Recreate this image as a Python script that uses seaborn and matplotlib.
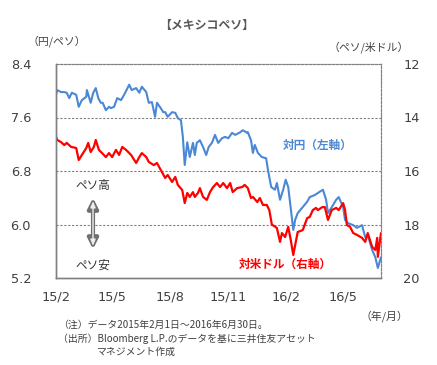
import numpy as np
import pandas as pd
import matplotlib
matplotlib.use("Agg")
import matplotlib.pyplot as plt
import seaborn as sns

# ---- data ----
start_date = "2015-02-01"
days_jpy = [0, 2, 8, 13, 17, 21, 25, 32, 36, 41, 48, 49, 55, 59, 63, 67, 71, 74, 79, 84, 87, 92,
            97, 103, 108, 116, 120, 127, 132, 136, 143, 147, 152, 157, 160, 166, 170, 173, 177,
            184, 189, 193, 198, 201, 204, 208, 212, 217, 220, 223, 228, 233, 238, 242, 247, 252,
            257, 263, 268, 273, 279, 284, 292, 296, 303, 304, 309, 312, 315, 320, 326, 333, 336,
            341, 347, 350, 355, 360, 364, 368, 371, 376, 379, 383, 391, 398, 402, 410, 418, 423,
            428, 431, 437, 444, 448, 455, 458, 463, 471, 477, 485, 490, 494, 501, 506, 510, 515]
mxn_jpy = [7.94, 8.01, 7.98, 7.98, 7.97, 7.89, 7.97, 7.94, 7.76, 7.86, 7.91, 8.01, 7.82, 7.97,
           8.04, 7.89, 7.82, 7.82, 7.71, 7.76, 7.74, 7.76, 7.89, 7.86, 7.94, 8.09, 8.01, 8.04,
           7.97, 8.06, 7.98, 7.82, 7.83, 7.61, 7.82, 7.74, 7.68, 7.68, 7.61, 7.68, 7.67, 7.59,
           7.56, 7.31, 6.89, 7.23, 7.01, 7.22, 7.04, 7.22, 7.26, 7.16, 7.04, 7.16, 7.22, 7.34,
           7.22, 7.29, 7.31, 7.29, 7.37, 7.34, 7.38, 7.41, 7.37, 7.38, 7.26, 7.07, 7.19, 7.07,
           7.01, 6.99, 6.81, 6.56, 6.52, 6.62, 6.37, 6.52, 6.67, 6.56, 6.32, 5.92, 6.07, 6.17,
           6.26, 6.34, 6.41, 6.44, 6.49, 6.52, 6.37, 6.17, 6.26, 6.37, 6.41, 6.26, 6.07, 6.02,
           5.99, 5.95, 5.99, 5.81, 5.84, 5.62, 5.51, 5.35, 5.51]

days_usd = [0, 2, 8, 13, 17, 24, 32, 36, 41, 48, 51, 55, 60, 63, 68, 73, 79, 84, 89, 95, 100,
            105, 111, 119, 127, 132, 136, 143, 147, 155, 160, 166, 173, 177, 184, 189, 193, 200,
            204, 208, 212, 217, 220, 225, 228, 233, 239, 244, 249, 255, 260, 265, 271, 276, 280,
            287, 295, 299, 304, 309, 312, 319, 323, 328, 334, 338, 342, 350, 355, 358, 363, 368,
            372, 376, 379, 383, 391, 398, 402, 407, 412, 415, 422, 426, 431, 437, 444, 448, 455,
            458, 461, 466, 471, 477, 485, 490, 494, 501, 506, 509, 510, 515]
mxn_usd = [14.73, 14.84, 14.92, 15.03, 14.95, 15.10, 15.14, 15.59, 15.40, 15.14, 14.95, 15.29,
           15.10, 14.84, 15.21, 15.33, 15.48, 15.33, 15.48, 15.21, 15.40, 15.10, 15.21, 15.40,
           15.70, 15.48, 15.33, 15.48, 15.66, 15.78, 15.70, 15.96, 16.26, 16.15, 16.41, 16.22,
           16.52, 16.71, 17.20, 16.82, 16.97, 16.79, 16.97, 16.82, 16.64, 16.97, 17.08, 16.79,
           16.60, 16.45, 16.60, 16.45, 16.64, 16.45, 16.79, 16.64, 16.60, 16.52, 16.64, 17.01,
           16.97, 17.16, 17.01, 17.27, 17.27, 17.46, 18.00, 18.13, 18.65, 18.32, 18.47, 18.09,
           18.58, 19.14, 18.77, 18.28, 18.21, 17.76, 17.72, 17.46, 17.38, 17.46, 17.35, 17.35,
           17.83, 17.46, 17.38, 17.46, 17.20, 17.46, 18.02, 18.09, 18.32, 18.39, 18.50, 18.65,
           18.32, 18.84, 18.95, 18.50, 19.21, 18.32]

tick_dates = ["2015-02-01", "2015-05-01", "2015-08-01", "2015-11-01", "2016-02-01", "2016-05-01"]
tick_labels = ["15/2", "15/5", "15/8", "15/11", "16/2", "16/5"]
left_ticks = [5.2, 6.0, 6.8, 7.6, 8.4]
right_ticks = [12, 14, 16, 18, 20]

# ---- build frames ----
t0 = pd.Timestamp(start_date)
df_jpy = pd.DataFrame({"date": t0 + pd.to_timedelta(days_jpy, unit="D"), "v": mxn_jpy})
df_usd = pd.DataFrame({"date": t0 + pd.to_timedelta(days_usd, unit="D"), "v": mxn_usd})

sns.set_theme(style="white")
JP = ["Noto Sans CJK JP", "DejaVu Sans"]
NUM = ["DejaVu Sans", "Noto Sans CJK JP"]
plt.rcParams["font.family"] = JP

W, H = 437, 365
fig = plt.figure(figsize=(W / 100, H / 100), dpi=100)
fig.patch.set_facecolor("white")

def fx(x):
    return x / W

def fy(y):
    return 1 - y / H

L, R, T, B = 56, 381, 64, 278
ax = fig.add_axes([fx(L), fy(B), fx(R) - fx(L), (B - T) / H])
ax2 = ax.twinx()

blue = "#4a88d6"
red = "#ff0000"
sns.lineplot(data=df_jpy, x="date", y="v", ax=ax, color=blue, lw=1.5, legend=False)
sns.lineplot(data=df_usd, x="date", y="v", ax=ax2, color=red, lw=1.6, legend=False)

ax.set_xlim(pd.Timestamp("2015-02-01"), pd.Timestamp("2016-06-30"))
ax.set_ylim(5.2, 8.4)
ax2.set_ylim(20, 12)

grid_c = "#808080"
for v in left_ticks[1:-1]:
    ax.axhline(v, color=grid_c, lw=0.8, ls=(0, (2, 1.5)), zorder=0)

ax.set_yticks(left_ticks)
ax.set_yticklabels([f"{v:.1f}" for v in left_ticks], fontfamily=NUM, fontsize=9.3, color="#404040")
ax2.set_yticks(right_ticks)
ax2.set_yticklabels([str(v) for v in right_ticks], fontfamily=NUM, fontsize=9.3, color="#404040")
ax.set_xticks(pd.to_datetime(tick_dates))
ax.set_xticklabels(tick_labels, fontfamily=NUM, fontsize=9.3, color="#404040")
ax.tick_params(axis="x", direction="in", length=3.5, width=0.8, color=grid_c, pad=9)
ax.tick_params(axis="y", length=0, pad=18)
ax2.tick_params(axis="y", length=0, pad=16)
ax.set_xlabel("")
ax.set_ylabel("")
ax2.set_ylabel("")
ax2.set_xlabel("")

for a in (ax, ax2):
    for s in ("left", "bottom"):
        a.spines[s].set_color(grid_c)
        a.spines[s].set_linewidth(1.0)
    for s in ("top", "right"):
        a.spines[s].set_color(grid_c)
        a.spines[s].set_linewidth(0.8)
        a.spines[s].set_linestyle((0, (2, 1.5)))
ax.grid(False)
ax2.grid(False)

# ---- texts ----
tc = "#404040"
fig.text(fx(207), fy(25), "【メキシコペソ】", ha="center", va="center", fontsize=8.6,
         fontweight="bold", color="#595959", family=JP)
fig.text(fx(57), fy(41), "（円/ペソ）", ha="center", va="center", fontsize=7.8, color=tc, family=JP)
fig.text(fx(369), fy(47), "（ペソ/米ドル）", ha="center", va="center", fontsize=7.8, color=tc, family=JP)
fig.text(fx(384), fy(316), "（年/月）", ha="center", va="center", fontsize=7.8, color=tc, family=JP)

fig.text(fx(58), fy(325), "（注）データ2015年2月1日～2016年6月30日。", ha="left", va="center",
         fontsize=7.1, color=tc, family=JP)
fig.text(fx(58), fy(339), "（出所）Bloomberg L.P.のデータを基に三井住友アセット", ha="left", va="center",
         fontsize=7.1, color=tc, family=JP)
fig.text(fx(97), fy(352), "マネジメント作成", ha="left", va="center",
         fontsize=7.1, color=tc, family=JP)

fig.text(fx(318), fy(145), "対円（左軸）", ha="center", va="center", fontsize=8.4,
         color=blue, fontweight="bold", family=JP)
fig.text(fx(285), fy(264), "対米ドル（右軸）", ha="center", va="center", fontsize=8.4,
         color=red, fontweight="bold", family=JP)

fig.text(fx(93), fy(186), "ペソ高", ha="center", va="center", fontsize=8.4, color="#333333", family=JP)
fig.text(fx(93), fy(265), "ペソ安", ha="center", va="center", fontsize=8.4, color="#333333", family=JP)

# hollow double arrow
fig.patches.append(matplotlib.patches.FancyArrowPatch(
    (fx(93), fy(195)), (fx(93), fy(252)), transform=fig.transFigure,
    arrowstyle="<|-|>,head_length=6,head_width=3", mutation_scale=1,
    color="#707070", lw=3.0))
fig.patches.append(matplotlib.patches.FancyArrowPatch(
    (fx(93), fy(198.5)), (fx(93), fy(248.5)), transform=fig.transFigure,
    arrowstyle="<|-|>,head_length=3.5,head_width=1.5", mutation_scale=1,
    color="#eeeeee", lw=1.0))

fig.savefig("out.png", dpi=100, facecolor="white")
